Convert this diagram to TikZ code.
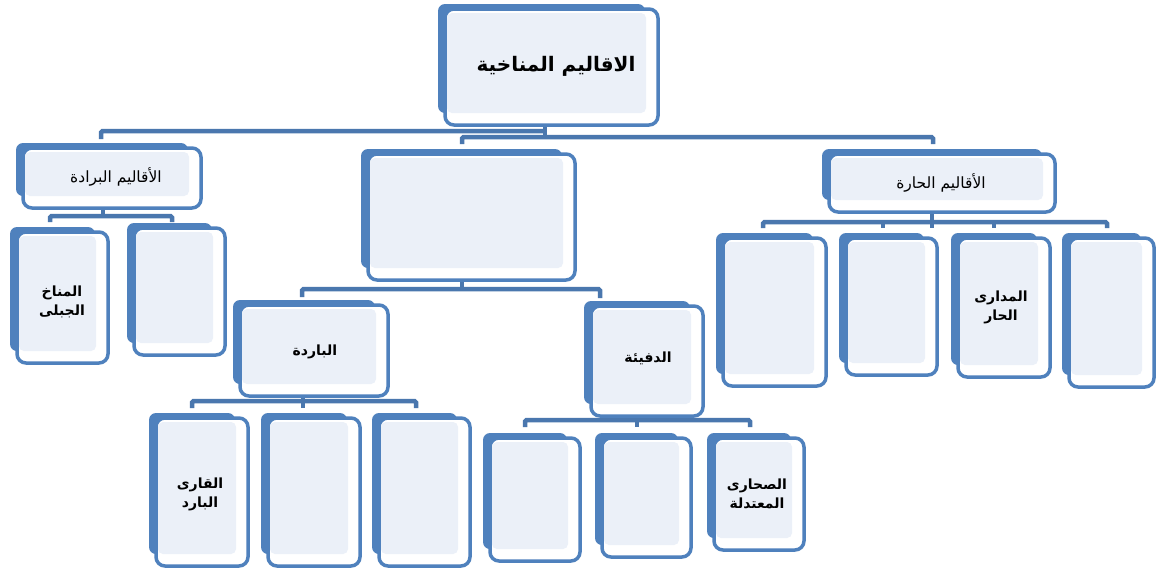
\documentclass[tikz,border=0pt]{standalone}
\usepackage{fontspec}
\newfontfamily\arabicfont[Script=Arabic]{DejaVu Sans}
\TeXXeTstate=1
\definecolor{accent}{HTML}{4F81BD}
\definecolor{conncol}{HTML}{4A77AE}
\definecolor{innerfill}{HTML}{EBF0F8}
\tikzset{
  frontbox/.style={draw=accent, line width=3.5pt, fill=white, rounded corners=9pt, inner sep=0pt},
  conn/.style={draw=conncol, line width=4.5pt, rounded corners=1.5pt},
  lbl/.style={font=\arabicfont\fontsize{15.5}{19}\selectfont, align=center, text=black, inner sep=0pt},
  lblb/.style={font=\arabicfont\bfseries\fontsize{14}{19}\selectfont, align=center, text=black, inner sep=0pt},
}
% name, L, T, R, B
\newcommand\cbox[5]{%
  \fill[accent, rounded corners=7pt] (#2,#3) rectangle ({#4-15},{#5-14});
  \node[frontbox, minimum width={(#4-#2-9)*1pt}, minimum height={(#5-#3-7)*1pt}] (#1) at ({(#2+7+#4-2)/2},{(#3+5+#5-2)/2}) {};
  \fill[innerfill, rounded corners=5pt] ({#2+9},{#3+9}) rectangle ({#4-14},{#5-14});
}
\begin{document}
\begin{tikzpicture}[x=1pt,y=-1pt]
\fill[white] (0,0) rectangle (1157,571);
\useasboundingbox (0,0) rectangle (1157,571);

% connectors
\draw[conn] (101,139) |- (545,131);
\draw[conn] (545,124) -- (545,139);
\draw[conn] (462,144) |- (933,137) -- (933,144);
\draw[conn] (103,207) -- (103,216);
\draw[conn] (50,222) |- (172,216) -- (172,222);
\draw[conn] (462,280) -- (462,289);
\draw[conn] (302,297) |- (600,289) -- (600,298);
\draw[conn] (932,212) -- (932,228);
\draw[conn] (763,228) |- (1107,222) -- (1107,228);
\draw[conn] (883,222) -- (883,228);
\draw[conn] (994,222) -- (994,228);
\draw[conn] (303,396) -- (303,408);
\draw[conn] (192,408) |- (416,401) -- (416,408);
\draw[conn] (637,414) -- (637,427);
\draw[conn] (525,427) |- (750,420) -- (750,427);

% boxes
\cbox{root}{438}{4}{660}{127}
\cbox{cold}{16}{143}{203}{210}
\cbox{mountain}{10}{227}{110}{365}
\cbox{coldb}{127}{223}{227}{357}
\cbox{center}{361}{149}{577}{282}
\cbox{cool}{233}{300}{390}{398}
\cbox{cool1}{149}{413}{250}{568}
\cbox{cool2}{261}{413}{362}{568}
\cbox{cool3}{372}{413}{472}{568}
\cbox{warm}{584}{301}{705}{418}
\cbox{warm1}{483}{433}{582}{563}
\cbox{warm2}{595}{433}{693}{559}
\cbox{warm3}{707}{433}{806}{552}
\cbox{hot}{822}{149}{1057}{214}
\cbox{hot1}{716}{233}{828}{388}
\cbox{hot2}{839}{233}{939}{377}
\cbox{hot3}{951}{233}{1052}{379}
\cbox{hot4}{1062}{233}{1156}{389}

% labels
\node[font=\arabicfont\bfseries\fontsize{20}{24}\selectfont, inner sep=0pt] (rootT) at (556,66) {\beginR الاقاليم المناخية\endR};
\node[lbl] (coldT) at (116,177) {\beginR الأقاليم البرادة\endR};
\node[lbl] (hotT) at (941,183) {\beginR الأقاليم الحارة\endR};
\node[lblb] (mountainT) at (62,302) {\beginR المناخ\endR\\\beginR الجبلى\endR};
\node[lblb] (coolT) at (315,352) {\beginR الباردة\endR};
\node[lblb] (warmT) at (648,358) {\beginR الدفيئة\endR};
\node[lblb] (cool1T) at (200,494) {\beginR القارى\endR\\\beginR البارد\endR};
\node[lblb] (warm3T) at (757,494) {\beginR الصحارى\endR\\\beginR المعتدلة\endR};
\node[lblb] (hot3T) at (1001,307) {\beginR المدارى\endR\\\beginR الحار\endR};
\end{tikzpicture}
\end{document}
